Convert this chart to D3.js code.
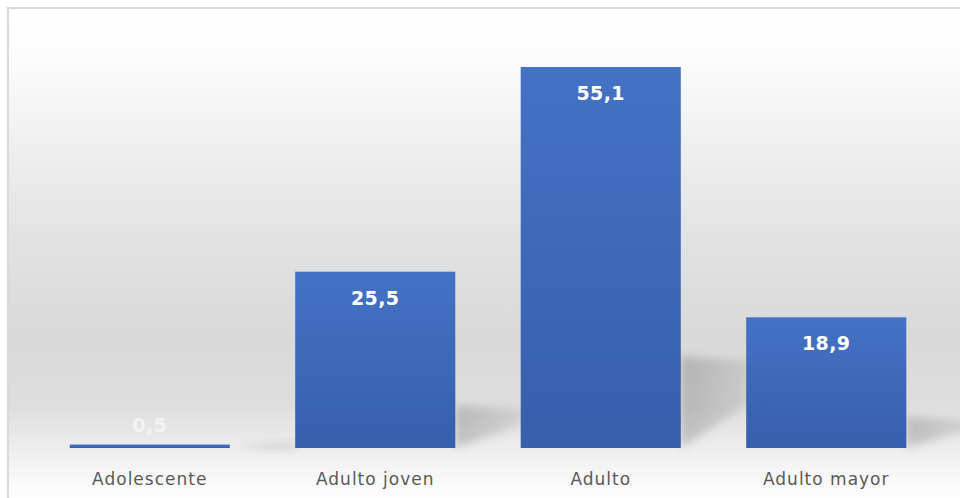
<!DOCTYPE html>
<html>
<head>
<meta charset="utf-8">
<script src="https://cdn.jsdelivr.net/npm/d3@7"></script>
<style>
  body { margin: 0; background: #fff; }
  svg { display: block; }
</style>
</head>
<body>
<svg width="960" height="498"></svg>
<script>
const svg = d3.select("svg"),
    width = +svg.attr("width"),
    height = +svg.attr("height");

// data
const categories = ["Adolescente", "Adulto joven", "Adulto", "Adulto mayor"];
const values = [0.5, 25.5, 55.1, 18.9];
const valueLabels = ["0,5", "25,5", "55,1", "18,9"];

const defs = svg.append("defs");

// chart background: white -> grey -> white
const bg = defs.append("linearGradient")
    .attr("id", "bg").attr("x1", 0).attr("y1", 0).attr("x2", 0).attr("y2", 1);
[[0, "#ffffff"], [0.08, "#fdfdfd"], [0.25, "#f1f1f1"], [0.45, "#e3e3e3"],
 [0.66, "#d9d9d9"], [0.8, "#dedede"], [0.9, "#f0f0f0"], [0.96, "#fbfbfb"], [1, "#ffffff"]]
  .forEach(s => bg.append("stop").attr("offset", s[0]).attr("stop-color", s[1]));

const barGrad = defs.append("linearGradient")
    .attr("id", "bar").attr("x1", 0).attr("y1", 0).attr("x2", 0).attr("y2", 1);
barGrad.append("stop").attr("offset", 0).attr("stop-color", "#4472c4");
barGrad.append("stop").attr("offset", 1).attr("stop-color", "#365fac");

const shGrad = defs.append("linearGradient")
    .attr("id", "sh").attr("x1", 0).attr("y1", 0).attr("x2", 1).attr("y2", 0);
shGrad.append("stop").attr("offset", 0).attr("stop-color", "#000").attr("stop-opacity", 0.18);
shGrad.append("stop").attr("offset", 1).attr("stop-color", "#000").attr("stop-opacity", 0.08);

defs.append("filter").attr("id", "blur")
    .attr("x", "-30%").attr("y", "-30%").attr("width", "160%").attr("height", "160%")
  .append("feGaussianBlur").attr("stdDeviation", 4);

svg.append("rect")
    .attr("x", 8).attr("y", 8)
    .attr("width", width).attr("height", height)
    .attr("fill", "url(#bg)")
    .attr("stroke", "#d9d9d9")
    .attr("stroke-width", 2);

// scales
const x = d3.scaleBand()
    .domain(categories)
    .range([37, 939])
    .paddingInner(0.29)
    .paddingOuter(0.145);

const y = d3.scaleLinear()
    .domain([0, 55.1])
    .range([448, 67]);

// bar shadows
svg.append("g")
    .selectAll("path")
    .data(values)
    .join("path")
      .attr("filter", "url(#blur)")
      .attr("fill", "url(#sh)")
      .attr("d", (d, i) => {
        const x1 = x(categories[i]) + x.bandwidth();
        const h = y(0) - y(d);
        const sh = h * 0.24;
        const w = 68;
        return d3.line()([
          [x1, y(0) - sh],
          [x1 + w, y(0) - sh + 4],
          [x1 + w, y(0) - h * 0.1 - 6],
          [x1, y(0)]
        ]) + "Z";
      });

// bars
svg.append("g")
    .selectAll("rect")
    .data(values)
    .join("rect")
      .attr("x", (d, i) => x(categories[i]))
      .attr("y", d => y(d))
      .attr("width", x.bandwidth())
      .attr("height", d => y(0) - y(d))
      .attr("fill", "url(#bar)");

// value labels
svg.append("g")
    .selectAll("text")
    .data(values)
    .join("text")
      .attr("x", (d, i) => x(categories[i]) + x.bandwidth() / 2)
      .attr("y", d => Math.min(y(d) + 33, y(0) - 16))
      .attr("text-anchor", "middle")
      .style("font-family", "'DejaVu Sans', sans-serif")
      .style("font-weight", "bold")
      .style("font-size", "19px")
      .style("letter-spacing", "0.4px")
      .style("fill", (d, i) => i === 0 ? "#f4f4f4" : "#ffffff")
      .text((d, i) => valueLabels[i]);

// category axis labels
const xAxis = svg.append("g")
    .attr("transform", `translate(0,${y(0)})`)
    .call(d3.axisBottom(x).tickSize(0).tickPadding(25));
xAxis.select(".domain").remove();
xAxis.selectAll("text")
    .style("font-family", "'DejaVu Sans', sans-serif")
    .style("font-size", "17px")
    .style("letter-spacing", "1px")
    .style("fill", "#595959");
</script>
</body>
</html>
